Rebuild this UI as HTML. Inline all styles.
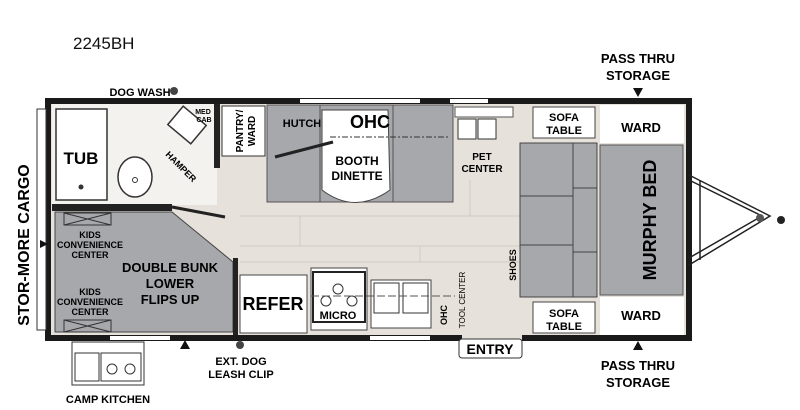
<!DOCTYPE html>
<html><head><style>
body{margin:0;background:#fff;}
svg{display:block;font-family:"Liberation Sans",sans-serif;font-weight:bold;}
</style></head><body>
<svg width="800" height="410" viewBox="0 0 800 410">
<text x="73" y="49" font-size="17" font-weight="normal" fill="#111">2245BH</text>
<!-- floor -->
<rect x="50" y="103" width="637" height="233" fill="#e6e1da"/>
<g stroke="#d0cbc3" stroke-width="1">
<line x1="240" y1="216" x2="520" y2="216"/><line x1="240" y1="246" x2="520" y2="246"/><line x1="240" y1="262" x2="520" y2="262"/>
<line x1="300" y1="216" x2="300" y2="246"/><line x1="420" y1="246" x2="420" y2="262"/><line x1="470" y1="180" x2="470" y2="216"/>
</g>
<!-- bath -->
<rect x="52" y="103" width="165" height="102" fill="#f4f2ee"/>
<rect x="56" y="109" width="51" height="91" fill="#fff" stroke="#333" stroke-width="1.5"/>
<text x="81" y="164" font-size="17" text-anchor="middle">TUB</text>
<circle cx="81" cy="187" r="2.5" fill="#333"/>
<ellipse cx="135" cy="177" rx="17" ry="20" fill="#fff" stroke="#333" stroke-width="1.5"/>
<circle cx="135" cy="180" r="2.5" fill="none" stroke="#333"/>
<rect x="172" y="113" width="30" height="24" fill="#fff" stroke="#333" stroke-width="1.5" transform="rotate(40 187 125)"/>
<text x="203" y="114" font-size="7" text-anchor="middle">MED</text><text x="204" y="122" font-size="7" text-anchor="middle">CAB</text>
<text x="165" y="155" font-size="9" transform="rotate(45 165 155)">HAMPER</text>
<rect x="222" y="106" width="43" height="50" fill="#fff" stroke="#333"/>
<text x="243" y="131" font-size="10" text-anchor="middle" transform="rotate(-90 243 131)">PANTRY/</text>
<text x="255" y="131" font-size="10" text-anchor="middle" transform="rotate(-90 255 131)">WARD</text>
<rect x="214" y="103" width="6" height="65" fill="#222"/>
<!-- dinette -->
<rect x="267" y="105" width="186" height="97" fill="#a6a8ab" stroke="#555"/>
<path d="M322 110 L388 110 L390 190 Q355 215 322 190 Z" fill="#fff" stroke="#444"/>
<line x1="320" y1="105" x2="320" y2="202" stroke="#555"/><line x1="393" y1="105" x2="393" y2="202" stroke="#555"/>
<line x1="275" y1="157" x2="333" y2="142" stroke="#222" stroke-width="3"/>
<line x1="330" y1="137" x2="450" y2="137" stroke="#333" stroke-dasharray="6,2,2,2"/>
<text x="302" y="127" font-size="11" text-anchor="middle">HUTCH</text>
<text x="370" y="128" font-size="18" text-anchor="middle">OHC</text>
<text x="357" y="165" font-size="12" text-anchor="middle">BOOTH</text>
<text x="357" y="180" font-size="12" text-anchor="middle">DINETTE</text>
<!-- pet center -->
<rect x="455" y="107" width="58" height="10" fill="#fff" stroke="#555"/>
<rect x="458" y="119" width="18" height="20" fill="#fff" stroke="#333"/><rect x="478" y="119" width="18" height="20" fill="#fff" stroke="#333"/>
<text x="482" y="160" font-size="10" text-anchor="middle">PET</text><text x="482" y="172" font-size="10" text-anchor="middle">CENTER</text>
<!-- sofa table / ward -->
<rect x="533" y="107" width="62" height="31" fill="#fff" stroke="#444"/>
<text x="564" y="121" font-size="11" text-anchor="middle">SOFA</text><text x="564" y="134" font-size="11" text-anchor="middle">TABLE</text>
<rect x="533" y="302" width="62" height="31" fill="#fff" stroke="#444"/>
<text x="564" y="317" font-size="11" text-anchor="middle">SOFA</text><text x="564" y="330" font-size="11" text-anchor="middle">TABLE</text>
<rect x="600" y="105" width="84" height="38" fill="#fff"/>
<text x="641" y="132" font-size="13" text-anchor="middle">WARD</text>
<rect x="600" y="297" width="84" height="38" fill="#fff"/>
<text x="641" y="320" font-size="13" text-anchor="middle">WARD</text>
<!-- sofa -->
<rect x="520" y="143" width="77" height="154" fill="#a6a8ab" stroke="#444"/>
<g stroke="#444"><line x1="573" y1="143" x2="573" y2="297"/><line x1="520" y1="196" x2="573" y2="196"/><line x1="520" y1="245" x2="573" y2="245"/>
<line x1="573" y1="188" x2="597" y2="188"/><line x1="573" y1="252" x2="597" y2="252"/></g>
<rect x="600" y="145" width="83" height="150" fill="#a6a8ab" stroke="#555"/>
<text x="656" y="220" font-size="18" text-anchor="middle" transform="rotate(-90 656 220)">MURPHY BED</text>
<text x="516" y="265" font-size="9" text-anchor="middle" transform="rotate(-90 516 265)">SHOES</text>
<text x="465" y="300" font-size="8" font-weight="normal" text-anchor="middle" transform="rotate(-90 465 300)">TOOL CENTER</text>
<!-- bunk -->
<polygon points="55,212 172,212 233,262 233,332 55,332" fill="#a6a8ab" stroke="#444"/>
<rect x="64" y="213" width="47" height="12" fill="none" stroke="#333"/><path d="M64 213 L111 225 M64 225 L111 213" stroke="#333"/>
<rect x="64" y="320" width="47" height="12" fill="none" stroke="#333"/><path d="M64 320 L111 332 M64 332 L111 320" stroke="#333"/>
<g font-size="9" text-anchor="middle"><text x="90" y="238">KIDS</text><text x="90" y="248">CONVENIENCE</text><text x="90" y="258">CENTER</text>
<text x="90" y="295">KIDS</text><text x="90" y="305">CONVENIENCE</text><text x="90" y="315">CENTER</text></g>
<g font-size="13" text-anchor="middle"><text x="170" y="272">DOUBLE BUNK</text><text x="170" y="288">LOWER</text><text x="170" y="304">FLIPS UP</text></g>
<rect x="52" y="204" width="120" height="7" fill="#222"/>
<line x1="172" y1="207" x2="225" y2="217" stroke="#222" stroke-width="3"/>
<rect x="233" y="258" width="5" height="80" fill="#222"/>
<!-- kitchen -->
<rect x="240" y="275" width="67" height="58" fill="#fff" stroke="#444"/>
<text x="273" y="310" font-size="18" text-anchor="middle">REFER</text>
<rect x="311" y="268" width="56" height="62" fill="#fff" stroke="#444"/>
<rect x="313" y="272" width="52" height="50" fill="none" stroke="#222" stroke-width="2"/>
<circle cx="338" cy="289" r="5" fill="none" stroke="#333"/><circle cx="326" cy="301" r="5" fill="none" stroke="#333"/><circle cx="352" cy="301" r="5" fill="none" stroke="#333"/>
<text x="338" y="319" font-size="11" text-anchor="middle">MICRO</text>
<rect x="371" y="280" width="60" height="48" fill="#fff" stroke="#444"/>
<rect x="374" y="283" width="25" height="30" fill="#fff" stroke="#333"/><rect x="403" y="283" width="25" height="30" fill="#fff" stroke="#333"/>
<line x1="311" y1="296" x2="455" y2="296" stroke="#555" stroke-dasharray="8,3"/>
<text x="447" y="315" font-size="9" text-anchor="middle" transform="rotate(-90 447 315)">OHC</text>
<!-- walls -->
<path d="M48 101 H689 V338 H48 Z" fill="none" stroke="#1a1a1a" stroke-width="6"/>
<rect x="300" y="99" width="120" height="4" fill="#fff"/><rect x="450" y="99" width="38" height="4" fill="#fff"/>
<rect x="110" y="336" width="60" height="4" fill="#fff"/><rect x="370" y="336" width="60" height="4" fill="#fff"/><rect x="462" y="335" width="60" height="6" fill="#e6e1da"/>
<!-- entry -->
<rect x="459" y="339" width="63" height="19" rx="3" fill="#fff" stroke="#333"/>
<text x="490" y="354" font-size="14" text-anchor="middle">ENTRY</text>
<!-- cargo -->
<rect x="37" y="109" width="9" height="221" fill="#fff" stroke="#333"/>
<polygon points="40,240 48,244 40,248" fill="#111"/>
<text x="29" y="245" font-size="16" text-anchor="middle" transform="rotate(-90 29 245)">STOR-MORE CARGO</text>
<!-- hitch -->
<g stroke="#222" stroke-width="1.5" fill="none"><path d="M689 175 L770 216 L689 265"/><path d="M689 180 L762 216 L689 258"/><line x1="700" y1="181" x2="700" y2="260"/></g>
<circle cx="781" cy="220" r="4" fill="#222"/><circle cx="760" cy="218" r="4" fill="#555"/>
<!-- labels -->
<text x="140" y="96" font-size="11" text-anchor="middle">DOG WASH</text><circle cx="174" cy="91" r="4" fill="#444"/>
<g font-size="13" text-anchor="middle"><text x="638" y="63">PASS THRU</text><text x="638" y="80">STORAGE</text>
<text x="638" y="370">PASS THRU</text><text x="638" y="387">STORAGE</text></g>
<polygon points="633,88 643,88 638,97" fill="#111"/><polygon points="633,350 643,350 638,341" fill="#111"/>
<polygon points="180,349 190,349 185,340" fill="#111"/>
<circle cx="240" cy="345" r="4" fill="#444"/>
<g font-size="11" text-anchor="middle"><text x="241" y="365">EXT. DOG</text><text x="241" y="378">LEASH CLIP</text>
<text x="108" y="403">CAMP KITCHEN</text></g>
<rect x="72" y="342" width="72" height="43" fill="#fff" stroke="#333"/>
<rect x="75" y="353" width="24" height="28" fill="#fff" stroke="#333"/><rect x="101" y="353" width="40" height="28" fill="#fff" stroke="#333"/>
<circle cx="112" cy="369" r="5" fill="none" stroke="#333"/><circle cx="130" cy="369" r="5" fill="none" stroke="#333"/>
</svg>
</body></html>
